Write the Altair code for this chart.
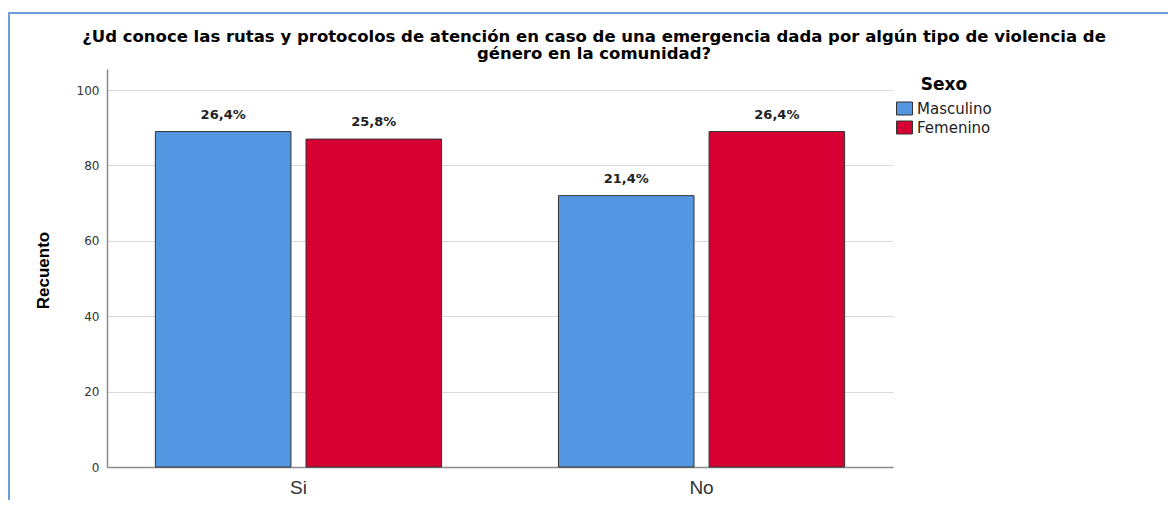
import altair as alt
import pandas as pd

# ---- data ----
categories = ["Si", "Si", "No", "No"]
sexo = ["Masculino", "Femenino", "Masculino", "Femenino"]
recuento = [89, 87, 72, 89]
porcentaje = ["26,4%", "25,8%", "21,4%", "26,4%"]
cat_order = ["Si", "No"]
sexo_order = ["Masculino", "Femenino"]
colores = ["#5596E3", "#D70032"]
y_ticks = [0, 20, 40, 60, 80, 100]
title_lines = [
    "¿Ud conoce las rutas y protocolos de atención en caso de una emergencia dada por algún tipo de violencia de",
    "género en la comunidad?",
]

df = pd.DataFrame({"Respuesta": categories, "Sexo": sexo,
                   "Recuento": recuento, "Pct": porcentaje})

W, H = 786, 398

x_enc = alt.X("Respuesta:N", sort=cat_order,
              scale=alt.Scale(paddingInner=0.29, paddingOuter=0.12),
              axis=alt.Axis(title=None, labelAngle=0, ticks=False, labelPadding=11,
                            labelFont="Liberation Sans", labelFontSize=19,
                            labelColor="#333333", domainColor="#8c8c8c",
                            domainWidth=1.5, grid=False))
xoff_enc = alt.XOffset("Sexo:N", sort=sexo_order,
                       scale=alt.Scale(paddingInner=0.1, paddingOuter=0))
y_enc = alt.Y("Recuento:Q",
              scale=alt.Scale(domain=[0, 105.6], nice=False, zero=True),
              axis=alt.Axis(title="Recuento", values=y_ticks, ticks=False,
                            labelPadding=8, labelFont="DejaVu Sans", labelFontSize=12,
                            labelColor="#333333", domainColor="#8c8c8c", domainWidth=1.5,
                            gridColor="#d9d9d9", gridWidth=1,
                            titleFont="Liberation Sans", titleFontSize=17,
                            titleFontWeight="bold", titleColor="#000000",
                            titleAngle=270, titleX=-64, titleY=201,
                            titleAlign="center", titleBaseline="middle"))
color_enc = alt.Color("Sexo:N", sort=sexo_order,
                      scale=alt.Scale(domain=sexo_order, range=colores),
                      legend=alt.Legend(title="Sexo", orient="none", legendX=789, legendY=8,
                                        titleAnchor="middle", titleFont="DejaVu Sans",
                                        titleFontSize=17, titleFontWeight="bold",
                                        titleColor="#000000", titlePadding=6,
                                        labelFont="DejaVu Sans", labelFontSize=15,
                                        labelColor="#222222", labelOffset=4,
                                        symbolType="M-1,-0.8125H1V0.8125H-1Z",
                                        symbolSize=256, symbolStrokeColor="#333333",
                                        symbolStrokeWidth=1, symbolOpacity=1,
                                        rowPadding=2))

frame = alt.Chart(alt.Data(values=[{"k": 1}])).mark_rect(
    fillOpacity=0, stroke="#6A9FDB", strokeWidth=2
).encode(x=alt.value(-98), x2=alt.value(2000), y=alt.value(-56), y2=alt.value(2000))

bars = alt.Chart(df).mark_bar(stroke="#333333", strokeWidth=1, opacity=1).encode(
    x=x_enc, xOffset=xoff_enc, y=y_enc, color=color_enc
)

labels = alt.Chart(df).mark_text(
    font="DejaVu Sans", fontSize=13, fontWeight="bold", color="#222222",
    baseline="alphabetic", dy=-13
).encode(x=alt.X("Respuesta:N", sort=cat_order), xOffset=alt.XOffset("Sexo:N", sort=sexo_order),
         y="Recuento:Q", text="Pct:N")

t1 = alt.Chart(alt.Data(values=[{"t": title_lines[0]}])).mark_text(
    font="DejaVu Sans", fontSize=16.5, fontWeight="bold", color="#000000",
    align="center", baseline="alphabetic"
).encode(x=alt.value(487), y=alt.value(-27), text="t:N")

t2 = alt.Chart(alt.Data(values=[{"t": title_lines[1]}])).mark_text(
    font="DejaVu Sans", fontSize=16.5, fontWeight="bold", color="#000000",
    align="center", baseline="alphabetic"
).encode(x=alt.value(487), y=alt.value(-10), text="t:N")

chart = alt.layer(frame, bars, labels, t1, t2).properties(
    width=W, height=H,
    autosize=alt.AutoSizeParams(type="none"),
    padding={"left": 99, "top": 61, "right": 275, "bottom": 33},
    background="white",
).configure_view(strokeOpacity=0)

chart.save("out.html", embed_options={"renderer": "svg", "actions": False})
